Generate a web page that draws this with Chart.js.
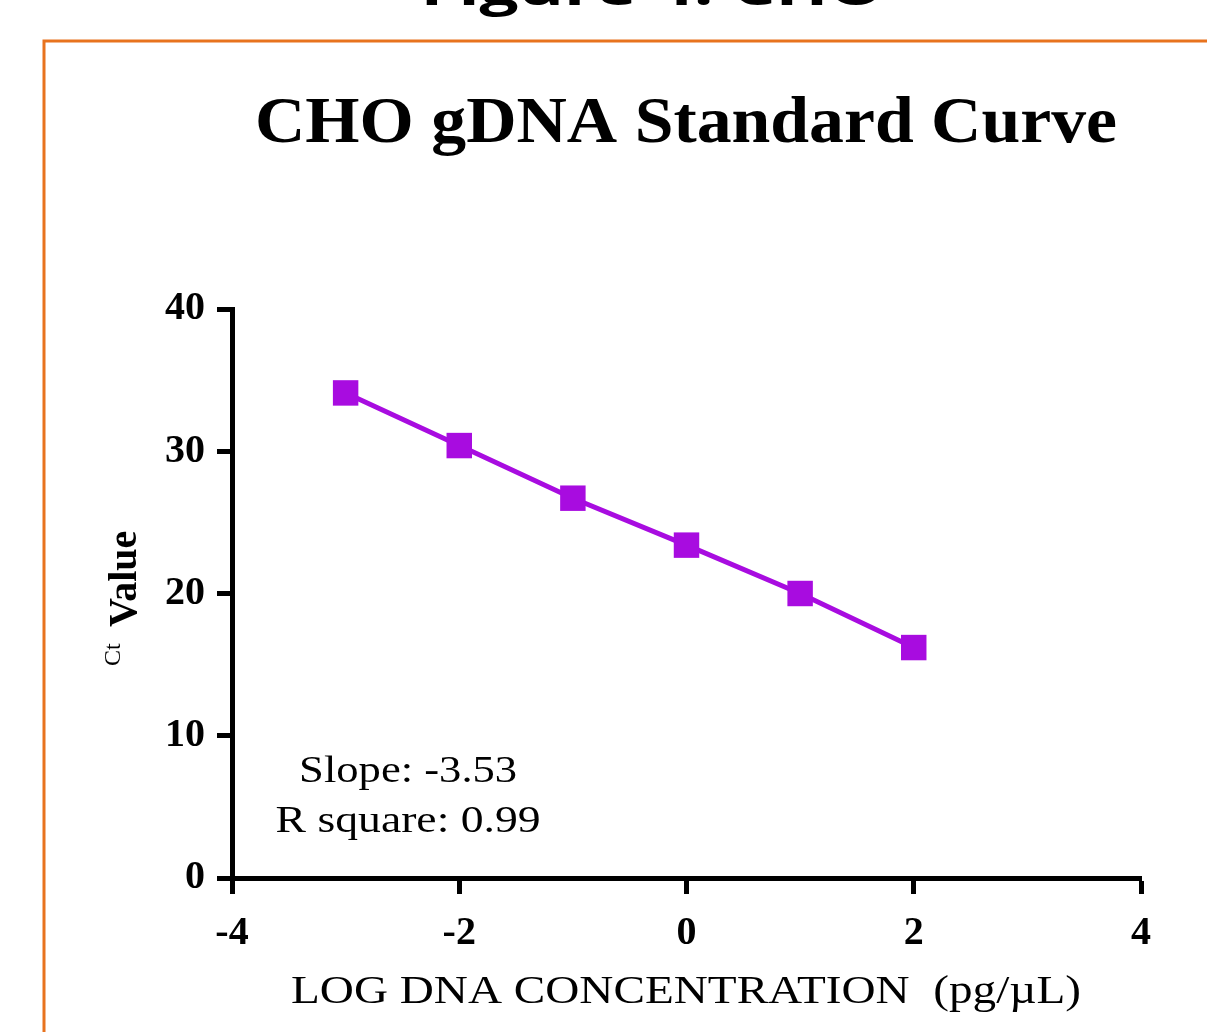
<!DOCTYPE html>
<html>
<head>
<meta charset="utf-8">
<script src="https://cdn.jsdelivr.net/npm/chart.js@4.4.1/dist/chart.umd.min.js"></script>
<style>
    body { margin: 0; background: #fff; }
    #cont { position: relative; width: 1207px; height: 1032px; overflow: hidden; }
</style>
</head>
<body>
<div id="cont"><canvas id="curveChart" width="1207" height="1032"></canvas></div>
<script>
// Chart data
const logConc = [-3, -2, -1, 0, 1, 2];
const ctValues = [34.1, 30.4, 26.7, 23.4, 20.0, 16.2];
const xTickValues = [-4, -2, 0, 2, 4];
const yTickValues = [0, 10, 20, 30, 40];

// Texts
const figureHeader = 'Figure 4: CHO';
const chartTitle = 'CHO gDNA Standard Curve';
const xAxisTitle = 'LOG DNA CONCENTRATION  (pg/\u00b5L)';
const statsLines = ['Slope: -3.53', 'R square: 0.99'];

const purple = '#a80ce0';

// Draw a text horizontally stretched to a given width
const fitText = (ctx, text, cx, baseline, width, font) => {
    ctx.save();
    ctx.font = font;
    const w = ctx.measureText(text).width;
    ctx.translate(cx, baseline);
    ctx.scale(width / w, 1);
    ctx.textAlign = 'center';
    ctx.textBaseline = 'alphabetic';
    ctx.fillStyle = '#000';
    ctx.fillText(text, 0, 0);
    ctx.restore();
}

const textPlugin = {
    id: 'figureText',
    beforeDraw: (chart) => {
        const ctx = chart.ctx;
        // Orange frame
        ctx.save();
        ctx.strokeStyle = '#e8731e';
        ctx.lineWidth = 3;
        ctx.beginPath();
        ctx.moveTo(44, 1040);
        ctx.lineTo(44, 41);
        ctx.lineTo(1215, 41);
        ctx.stroke();
        ctx.restore();
    },
    afterDraw: (chart) => {
        const ctx = chart.ctx;

        // Header cut off at the top
        fitText(ctx, figureHeader, 652, 5, 463, 'bold 48px "Open Sans"');

        // Title
        fitText(ctx, chartTitle, 686, 142, 862, 'bold 66px "Liberation Serif"');

        // X axis title
        fitText(ctx, xAxisTitle, 686, 1003, 790, '40px "Liberation Serif"');

        // Y axis title (Ct small + Value bold)
        ctx.save();
        ctx.rotate(-Math.PI / 2);
        ctx.fillStyle = '#000';
        ctx.textAlign = 'left';
        ctx.textBaseline = 'alphabetic';
        ctx.font = '24px "Liberation Serif"';
        ctx.fillText('Ct', -666, 120);
        ctx.font = 'bold 40px "Liberation Serif"';
        ctx.fillText('Value', -627, 136);
        ctx.restore();

        // Regression stats
        const xs = chart.scales.x;
        const cx = xs.getPixelForValue(-2.45);
        fitText(ctx, statsLines[0], cx, 782, 218, '37px "Liberation Serif"');
        fitText(ctx, statsLines[1], cx, 832, 265, '37px "Liberation Serif"');
    }
}

const createCurveChart = () => {
    const ctx = document.getElementById('curveChart').getContext('2d');

    const points = logConc.map((x, i) => ({ x: x, y: ctValues[i] }));

    new Chart(ctx, {
        type: 'scatter',
        data: {
            datasets: [{
                data: points,
                showLine: true,
                borderColor: purple,
                borderWidth: 5,
                backgroundColor: purple,
                pointStyle: 'rect',
                pointRadius: 18,
                pointBorderWidth: 0,
                pointBackgroundColor: purple
            }]
        },
        options: {
            responsive: false,
            animation: false,
            layout: {
                padding: { left: 0, top: 309, right: 66, bottom: 0 }
            },
            plugins: {
                legend: { display: false },
                tooltip: { enabled: false },
                title: { display: false }
            },
            scales: {
                x: {
                    type: 'linear',
                    min: xTickValues[0],
                    max: xTickValues[xTickValues.length - 1],
                    afterBuildTicks: (scale) => {
                        scale.ticks = xTickValues.map(v => ({ value: v }));
                    },
                    afterFit: (scale) => { scale.height = 154; },
                    border: { display: true, color: '#000', width: 5 },
                    grid: {
                        drawOnChartArea: false,
                        tickLength: 16,
                        tickWidth: 5,
                        tickColor: '#000'
                    },
                    ticks: {
                        color: '#000',
                        padding: 16,
                        maxRotation: 0,
                        font: { family: '"Liberation Serif"', size: 40, weight: 'bold' }
                    }
                },
                y: {
                    type: 'linear',
                    min: yTickValues[0],
                    max: yTickValues[yTickValues.length - 1],
                    afterBuildTicks: (scale) => {
                        scale.ticks = yTickValues.map(v => ({ value: v }));
                    },
                    afterFit: (scale) => { scale.width = 232; },
                    border: { display: true, color: '#000', width: 5 },
                    grid: {
                        drawOnChartArea: false,
                        tickLength: 15,
                        tickWidth: 5,
                        tickColor: '#000'
                    },
                    ticks: {
                        color: '#000',
                        padding: 12,
                        font: { family: '"Liberation Serif"', size: 40, weight: 'bold' }
                    }
                }
            }
        },
        plugins: [textPlugin]
    });
}

createCurveChart();
</script>
</body>
</html>
